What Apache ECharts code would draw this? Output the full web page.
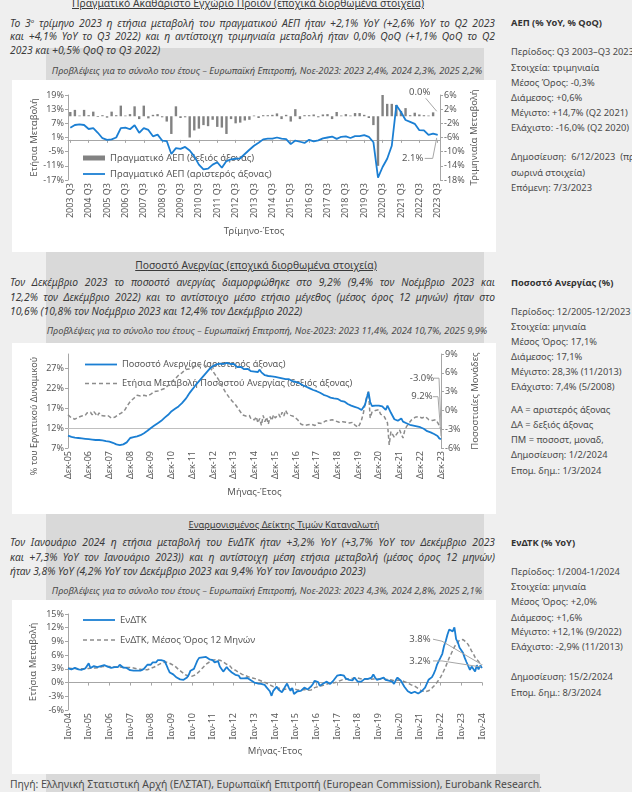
<!DOCTYPE html>
<html><head><meta charset="utf-8">
<script src="https://cdn.jsdelivr.net/npm/echarts@6/dist/echarts.min.js"></script>
<style>
html,body{margin:0;padding:0;}
body{width:632px;height:792px;overflow:hidden;position:relative;background:#efefef;font-family:'Noto Sans','Open Sans',sans-serif;color:#3a3a3a;}
.box{position:absolute;background:#d9d9d9;}
.panel{position:absolute;background:#fff;}
.t{position:absolute;white-space:nowrap;line-height:14px;}
.para{left:10px;width:485px;font-style:italic;font-size:10.3px;}
.just{text-align:justify;text-align-last:justify;}
.fc{font-style:italic;font-size:9.3px;color:#4a4a4a;transform:translateX(-50%);}
.ttl{font-size:10.3px;text-decoration:underline;transform:translateX(-50%);}
.ttl.small{font-size:9.3px;}
.sb{left:511px;font-size:9.3px;color:#4a4a4a;}
.sbh{font-weight:bold;color:#333;}
.foot{left:10px;font-size:10.4px;color:#4a4a4a;}
.chart{position:absolute;}
</style></head>
<body>
<div class="box" style="left:46px;top:48px;width:438px;height:744px;"></div>
<div class="box" style="left:46px;top:774px;width:494px;height:18px;"></div>
<div class="panel" style="left:12px;top:80px;width:484px;height:172px;"></div>
<div class="panel" style="left:12px;top:343px;width:484px;height:171px;"></div>
<div class="panel" style="left:12px;top:600px;width:484px;height:174px;"></div>
<div id="c1" class="chart" style="left:12px;top:80px;width:484px;height:172px;"></div>
<div id="c2" class="chart" style="left:12px;top:343px;width:484px;height:171px;"></div>
<div id="c3" class="chart" style="left:12px;top:600px;width:484px;height:174px;"></div>
<script>
// ---------------- DATA ----------------
// GDP, quarterly Q3 2003 - Q3 2023
const gdpStart = [2003, 3];
const gdpYoY = [5.1, 6.3, 6.6, 6.3, 4.6, 5.0, 3.0, 0.7, 0.0, 0.2, 1.0, 5.0, 5.2, 4.5, 6.2, 3.0,
  5.0, 4.2, 1.5, 2.2, -0.3, -0.5, -6.0, -3.5, -3.8, -3.0, -4.5, -7.0, -10.5, -12.5, -12.2, -10.5,
  -9.5, -11.8, -9.0, -8.3, -8.0, -7.8, -6.0, -4.2, -2.5, -1.2, 0.2, 0.5, 0.5, 1.0, 0.5, 0.3,
  -1.8, -0.3, -0.8, -1.3, 0.0, -0.6, -0.2, 0.6, 1.0, 1.4, 0.4, 1.3, 1.5, 0.8, 1.6, 1.6,
  2.0, 1.3, -1.0, -16.0, -11.5, -8.0, -2.5, 14.7, 11.8, 8.4, 7.6, 6.8, 4.1, 4.0, 2.1, 2.6, 2.1];
const gdpQoQ = [1.2, 1.8, 0.2, 1.8, 0.3, 1.3, -0.2, 0.3, -0.4, 1.3, 0.3, 3.0, 0.2, 0.6, 2.8, -0.8,
  3.0, -0.6, 0.4, 0.6, -0.3, -1.5, -5.0, 2.8, -0.5, -0.3, -6.0, -4.0, -3.5, -2.5, -2.8, -1.0,
  -3.0, -3.2, -5.0, -0.8, -2.0, -1.8, -1.2, -1.0, 0.2, -0.5, 0.3, 0.3, 0.4, 0.8, -0.8, 0.4,
  -1.5, 2.0, -0.8, 0.3, 0.3, 0.5, -0.3, 0.5, 0.6, -0.8, 1.2, 0.2, 0.6, 0.2, 0.9, 0.9,
  0.4, -0.5, -2.5, -14.0, 6.0, 3.5, 3.5, 3.2, 1.5, 2.3, 0.3, 1.0, 0.5, 0.3, 0.2, 1.1, 0.0];

// Unemployment, monthly Dec 2005 - Dec 2023
const unempStart = [2005, 12];
const unempRate = [10.1,
  10.0, 9.8, 9.9, 9.6, 9.7, 9.5, 9.6, 9.4, 9.5, 9.3, 9.4, 9.2,
  9.3, 9.1, 9.2, 9.0, 8.9, 9.0, 8.8, 8.9, 8.6, 8.7, 8.5, 8.6,
  8.4, 8.3, 8.1, 7.9, 7.6, 7.7, 7.8, 7.9, 8.1, 8.4, 8.9, 9.5,
  9.5, 9.7, 9.6, 9.9, 10.0, 10.2, 10.5, 10.7, 11.0, 11.3, 11.6, 12.0,
  12.3, 12.6, 12.9, 13.2, 13.5, 13.8, 14.2, 14.6, 14.9, 15.3, 15.8, 16.2,
  16.5, 16.8, 17.1, 17.4, 17.8, 18.2, 18.6, 19.2, 19.8, 20.5, 21.1, 21.6,
  22.2, 22.8, 23.3, 23.8, 24.3, 24.8, 25.3, 25.8, 26.3, 26.8, 27.2, 27.5,
  27.7, 27.9, 28.0, 28.1, 28.2, 28.0, 28.2, 28.3, 28.1, 28.0, 28.3, 28.0,
  27.6, 27.2, 27.0, 27.3, 26.9, 26.7, 26.5, 26.8, 26.4, 26.2, 26.5, 26.1,
  26.3, 26.0, 26.6, 25.9, 25.6, 25.2, 25.4, 25.0, 25.2, 24.9, 25.0, 24.8,
  24.9, 24.6, 24.8, 24.4, 24.5, 24.2, 24.0, 24.2, 23.9, 23.7, 23.8, 23.5,
  23.4, 23.2, 23.0, 22.7, 22.5, 22.3, 22.0, 21.9, 21.6, 21.5, 21.3, 21.2,
  21.0, 20.8, 20.6, 20.3, 20.4, 20.0, 19.8, 19.6, 19.8, 19.4, 19.6, 19.3,
  19.0, 18.8, 18.5, 18.6, 18.2, 18.0, 17.8, 17.6, 17.5, 17.3, 17.1, 17.0,
  16.8, 16.5, 16.9, 17.8, 19.5, 21.0, 18.5, 17.5, 17.2, 17.6, 17.8, 17.6,
  17.9, 17.4, 17.0, 16.5, 17.6, 17.2, 15.8, 15.0, 14.2, 14.0, 13.8, 13.9,
  14.4, 13.6, 13.3, 13.2, 13.0, 12.8, 12.9, 12.6, 12.5, 12.4, 12.3, 12.2,
  12.0, 11.8, 11.9, 11.2, 11.0, 10.9, 10.7, 10.5, 10.3, 10.0, 9.4, 9.2];
const unempChange = [-0.7,
  -0.9, -1.2, -1.0, -1.4, -1.5, -1.1, -1.3, -0.9, -0.6, -0.8, -0.4, -0.6,
  -0.3, -0.7, -0.2, -0.5, -0.9, -0.4, -0.8, -0.5, -0.9, -1.1, -0.8, -1.0,
  -1.2, -0.9, -1.1, -0.9, -0.7, -0.6, -0.4, -0.2, 0.1, 0.6, 1.0, 1.4,
  1.6, 1.9, 2.1, 2.4, 2.6, 2.3, 2.5, 2.4, 2.6, 2.3, 2.5, 2.6,
  2.9, 3.0, 3.2, 3.1, 3.4, 3.3, 3.6, 3.5, 3.8, 4.0, 4.3, 4.6,
  4.8, 5.0, 5.3, 5.6, 5.8, 6.0, 6.3, 6.5, 6.4, 6.6, 6.8, 6.7,
  7.0, 7.2, 7.4, 7.3, 7.5, 7.4, 7.2, 7.0, 7.3, 6.9, 6.6, 6.2,
  5.8, 5.4, 5.0, 4.5, 4.0, 3.5, 3.0, 2.6, 2.2, 1.9, 1.5, 1.2,
  0.9, 0.5, 0.1, -0.3, -0.7, -0.5, -0.9, -1.2, -0.8, -1.4, -1.1, -1.5,
  -1.0, -2.0, -1.3, -2.4, -0.8, -1.8, -1.1, -2.2, -1.0, -1.6, -0.7, -1.2,
  -1.5, -0.6, -1.1, -0.3, -0.9, 0.0, -0.5, -0.2, -0.8, -0.6, -1.0, -1.2,
  -1.5, -1.8, -2.2, -2.5, -2.4, -2.6, -2.3, -2.5, -2.2, -2.0, -2.4, -2.3,
  -2.0, -1.8, -2.1, -1.9, -1.7, -2.0, -1.6, -1.9, -1.5, -1.8, -1.7, -1.8,
  -1.9, -2.0, -1.8, -2.1, -1.9, -2.2, -2.0, -2.1, -1.9, -2.3, -2.5, -2.7,
  -2.2, -1.5, -0.5, 1.0, 2.2, 3.0, -1.2, -0.3, -0.5, 0.0, 0.2, 0.1,
  -0.6, -0.4, -0.9, -1.0, -2.0, -5.5, -3.4, -3.6, -4.3, -4.1, -3.5, -3.1,
  -3.8, -4.4, -3.2, -2.6, -2.2, -1.9, -1.5, -1.2, -1.1, -0.8, -1.0, -0.9,
  -1.2, -1.4, -1.0, -1.3, -1.5, -1.2, -1.6, -1.8, -1.5, -1.9, -2.4, -3.0];

// HICP, monthly Jan 2004 - Jan 2024
const hicpStart = [2004, 1];
const hicpYoY = [
  3.1, 2.9, 2.9, 2.9, 3.2, 3.0, 2.9, 3.1, 2.8, 3.2, 3.1, 3.1,
  4.2, 3.2, 3.4, 3.6, 3.3, 3.4, 3.8, 3.6, 3.9, 3.8, 3.4, 3.5,
  3.2, 3.2, 3.3, 3.4, 3.7, 3.4, 3.9, 3.6, 3.3, 3.2, 3.2, 3.2,
  2.7, 2.7, 2.6, 2.6, 2.6, 2.5, 2.6, 2.7, 3.0, 3.2, 3.9, 3.9,
  3.9, 4.4, 4.4, 4.4, 4.9, 4.9, 4.9, 4.8, 4.7, 3.9, 3.0, 2.2,
  2.0, 1.8, 1.5, 1.1, 0.7, 0.7, 0.7, 0.6, 0.7, 1.1, 1.7, 2.6,
  2.3, 3.0, 3.9, 4.8, 5.4, 5.6, 5.5, 5.6, 5.6, 5.2, 5.1, 5.2,
  4.9, 4.4, 4.3, 4.7, 3.5, 3.5, 2.4, 2.4, 3.4, 2.9, 2.8, 2.2,
  2.1, 1.7, 1.4, 1.5, 0.9, 1.1, 0.9, 1.2, 1.0, 0.9, 0.5, 0.3,
  0.0, 0.1, -0.2, -0.6, -0.3, -0.3, -0.5, -1.0, -1.0, -1.9, -2.9, -1.8,
  -1.4, -0.9, -1.5, -1.6, -2.1, -1.5, -0.8, -0.2, -1.1, -1.8, -1.2, -2.5,
  -2.8, -1.9, -1.9, -1.8, -1.4, -1.1, -1.3, -1.5, -1.7, -0.8, -0.3, 0.4,
  0.0, 0.1, -0.7, -0.4, -0.2, 0.2, 0.2, 0.0, -0.3, 0.0, 0.5, 0.3,
  1.5, 1.4, 1.7, 1.6, 1.5, 0.9, 0.9, 0.6, 1.0, 0.5, 1.1, 1.0,
  0.2, 0.4, 0.2, 0.5, 0.8, 1.0, 0.8, 0.9, 1.1, 1.8, 1.1, 0.6,
  0.5, 0.8, 1.0, 1.1, 0.6, 0.2, 0.4, 0.1, 0.2, -0.3, 0.5, 1.1,
  1.1, 0.4, 0.2, -0.9, -1.3, -1.9, -2.1, -2.3, -2.3, -2.0, -2.1, -2.4,
  -2.4, -1.9, -2.0, -1.1, -1.2, 0.6, 0.7, 1.2, 1.9, 2.8, 4.0, 4.4,
  5.5, 6.3, 8.0, 9.1, 10.5, 11.6, 11.3, 11.2, 12.1, 9.5, 8.8, 7.6,
  7.3, 6.5, 5.4, 4.5, 4.1, 2.8, 3.5, 3.5, 2.4, 3.8, 2.9, 3.7,
  3.2];
const hicpAvg12 = [
  3.2, 3.2, 3.1, 3.1, 3.1, 3.1, 3.0, 3.0, 3.0, 3.0, 3.0, 3.0,
  3.1, 3.1, 3.2, 3.2, 3.2, 3.2, 3.3, 3.4, 3.5, 3.5, 3.5, 3.5,
  3.5, 3.4, 3.4, 3.4, 3.4, 3.4, 3.4, 3.4, 3.3, 3.3, 3.3, 3.3,
  3.3, 3.2, 3.2, 3.1, 3.0, 3.0, 2.9, 2.8, 2.8, 2.8, 2.8, 3.0,
  3.1, 3.3, 3.4, 3.6, 3.8, 4.0, 4.2, 4.3, 4.5, 4.5, 4.4, 4.2,
  4.0, 3.8, 3.6, 3.3, 2.9, 2.6, 2.3, 2.0, 1.7, 1.5, 1.4, 1.4,
  1.4, 1.5, 1.7, 2.0, 2.4, 2.8, 3.2, 3.6, 4.0, 4.3, 4.5, 4.7,
  4.9, 5.0, 5.0, 5.0, 4.9, 4.7, 4.5, 4.2, 4.0, 3.8, 3.6, 3.1,
  2.9, 2.7, 2.5, 2.2, 2.0, 1.8, 1.7, 1.5, 1.3, 1.2, 1.1, 1.0,
  0.9, 0.8, 0.6, 0.5, 0.4, 0.2, 0.1, -0.1, -0.3, -0.5, -0.8, -0.9,
  -1.0, -1.1, -1.2, -1.3, -1.4, -1.5, -1.5, -1.4, -1.4, -1.4, -1.3, -1.4,
  -1.5, -1.6, -1.6, -1.6, -1.5, -1.5, -1.6, -1.7, -1.7, -1.6, -1.5, -1.1,
  -1.0, -0.9, -0.8, -0.7, -0.6, -0.5, -0.3, -0.2, -0.1, -0.1, 0.0, 0.0,
  0.1, 0.3, 0.5, 0.6, 0.7, 0.7, 0.8, 0.8, 0.9, 0.9, 1.0, 1.1,
  1.0, 0.9, 0.8, 0.7, 0.7, 0.7, 0.7, 0.7, 0.7, 0.8, 0.8, 0.8,
  0.8, 0.8, 0.8, 0.8, 0.8, 0.7, 0.6, 0.6, 0.5, 0.4, 0.4, 0.5,
  0.5, 0.5, 0.4, 0.2, 0.1, -0.1, -0.3, -0.5, -0.7, -0.8, -1.0, -1.3,
  -1.6, -1.8, -2.0, -2.0, -2.0, -1.8, -1.5, -1.2, -0.8, -0.4, 0.1, 0.6,
  1.2, 1.9, 2.7, 3.5, 4.5, 5.4, 6.2, 7.0, 7.8, 8.4, 8.8, 9.3,
  9.4, 9.4, 9.2, 8.8, 8.3, 7.6, 6.9, 6.3, 5.5, 5.1, 4.6, 4.2,
  3.8];

const GR_MONTHS = ['Ιαν','Φεβ','Μαρ','Απρ','Μαΐ','Ιουν','Ιουλ','Αυγ','Σεπ','Οκτ','Νοε','Δεκ'];
function quarterLabels(start, n) {
  const out = []; let y = start[0], q = start[1];
  for (let i = 0; i < n; i++) { out.push(y + ' Q' + q); q++; if (q > 4) { q = 1; y++; } }
  return out;
}
function monthLabels(start, n) {
  const out = []; let y = start[0], m = start[1];
  for (let i = 0; i < n; i++) { out.push(GR_MONTHS[m - 1] + '-' + String(y).slice(2)); m++; if (m > 12) { m = 1; y++; } }
  return out;
}
const gdpCategories = quarterLabels(gdpStart, gdpYoY.length);
const unempCategories = monthLabels(unempStart, unempRate.length);
const hicpCategories = monthLabels(hicpStart, hicpYoY.length);

// ---------------- TEXT ----------------
const texts = [
  ['ttl', 'Πραγματικό Ακαθάριστο Εγχώριο Προϊόν (εποχικά διορθωμένα στοιχεία)', 3, 248],
  ['para just', 'Το 3<sup style="font-size:6px">ο</sup> τρίμηνο 2023 η ετήσια μεταβολή του πραγματικού ΑΕΠ ήταν +2,1% YoY (+2,6% YoY το Q2 2023', 21],
  ['para just', 'και +4,1% YoY το Q3 2022) και η αντίστοιχη τριμηνιαία μεταβολή ήταν 0,0% QoQ (+1,1% QoQ το Q2', 35.5],
  ['para', '2023 και +0,5% QoQ το Q3 2022)', 50],
  ['fc', 'Προβλέψεις για το σύνολο του έτους – Ευρωπαϊκή Επιτροπή, Νοε-2023: 2023 2,4%, 2024 2,3%, 2025 2,2%', 71, 267],
  ['ttl', 'Ποσοστό Ανεργίας (εποχικά διορθωμένα στοιχεία)', 265, 256],
  ['para just', 'Τον Δεκέμβριο 2023 το ποσοστό ανεργίας διαμορφώθηκε στο 9,2% (9,4% τον Νοέμβριο 2023 και', 282],
  ['para just', '12,2% τον Δεκέμβριο 2022) και το αντίστοιχο μέσο ετήσιο μέγεθος (μέσος όρος 12 μηνών) ήταν στο', 296.5],
  ['para', '10,6% (10,8% τον Νοέμβριο 2023 και 12,4% τον Δεκέμβριο 2022)', 311],
  ['fc', 'Προβλέψεις για το σύνολο του έτους – Ευρωπαϊκή Επιτροπή, Νοε-2023: 2023 11,4%, 2024 10,7%, 2025 9,9%', 331, 267],
  ['ttl small', 'Εναρμονισμένος Δείκτης Τιμών Καταναλωτή', 525, 284],
  ['para just', 'Τον Ιανουάριο 2024 η ετήσια μεταβολή του ΕνΔΤΚ ήταν +3,2% YoY (+3,7% YoY τον Δεκέμβριο 2023', 542],
  ['para just', 'και +7,3% YoY τον Ιανουάριο 2023)) και η αντίστοιχη μέση ετήσια μεταβολή (μέσος όρος 12 μηνών)', 556.5],
  ['para', 'ήταν 3,8% YoY (4,2% YoY τον Δεκέμβριο 2023 και 9,4% YoY τον Ιανουάριο 2023)', 571],
  ['fc', 'Προβλέψεις για το σύνολο του έτους – Ευρωπαϊκή Επιτροπή, Νοε-2023: 2023 4,3%, 2024 2,8%, 2025 2,1%', 591, 267],
  ['sb sbh', 'ΑΕΠ (% YoY, % QoQ)', 22.5],
  ['sb', 'Περίοδος: Q3 2003–Q3 2023', 51.5],
  ['sb', 'Στοιχεία: τριμηνιαία', 67.5],
  ['sb', 'Μέσος Όρος: -0,3%', 82.5],
  ['sb', 'Διάμεσος: +0,6%', 98],
  ['sb', 'Μέγιστο: +14,7% (Q2 2021)', 112.5],
  ['sb', 'Ελάχιστο: -16,0% (Q2 2020)', 127.5],
  ['sb', 'Δημοσίευση:&nbsp; 6/12/2023 &nbsp;(προ-', 157],
  ['sb', 'σωρινά στοιχεία)', 173],
  ['sb', 'Επόμενη: 7/3/2023', 188],
  ['sb sbh', 'Ποσοστό Ανεργίας (%)', 282.5],
  ['sb', 'Περίοδος: 12/2005-12/2023', 311.5],
  ['sb', 'Στοιχεία: μηνιαία', 326.5],
  ['sb', 'Μέσος Όρος: 17,1%', 341.5],
  ['sb', 'Διάμεσος: 17,1%', 356.5],
  ['sb', 'Μέγιστο: 28,3% (11/2013)', 371.5],
  ['sb', 'Ελάχιστο: 7,4% (5/2008)', 386.5],
  ['sb', 'ΑΑ = αριστερός άξονας', 410],
  ['sb', 'ΔΑ = δεξιός άξονας', 425],
  ['sb', 'ΠΜ = ποσοστ, μοναδ,', 440],
  ['sb', 'Δημοσίευση: 1/2/2024', 455],
  ['sb', 'Επομ. δημ.: 1/3/2024', 470.5],
  ['sb sbh', 'ΕνΔΤΚ (% YoY)', 542.5],
  ['sb', 'Περίοδος: 1/2004-1/2024', 571.5],
  ['sb', 'Στοιχεία: μηνιαία', 587],
  ['sb', 'Μέσος Όρος: +2,0%', 602],
  ['sb', 'Διάμεσος: +1,6%', 617.5],
  ['sb', 'Μέγιστο: +12,1% (9/2022)', 632],
  ['sb', 'Ελάχιστο: -2,9% (11/2013)', 647],
  ['sb', 'Δημοσίευση: 15/2/2024', 676.5],
  ['sb', 'Επομ. δημ.: 8/3/2024', 692.5],
  ['foot', 'Πηγή: Ελληνική Στατιστική Αρχή (ΕΛΣΤΑΤ), Ευρωπαϊκή Επιτροπή (European Commission), Eurobank Research.', 784]
];
texts.forEach(([cls, html, y, x]) => {
  const d = document.createElement('div');
  d.className = 't ' + cls;
  d.innerHTML = html;
  d.style.top = (y - 7) + 'px';
  if (x !== undefined) d.style.left = x + 'px';
  document.body.appendChild(d);
});

// ---------------- CHARTS ----------------
const FONT = 'Noto Sans';
const AX = '#a6a6a6', LBL = '#595959', BLUE = '#1b7fd3', GREY = '#8c8c8c';
const lblStyle = { fontSize: 9, color: LBL, fontFamily: FONT };
const ICON_LINE22 = 'path://M0,0h22v1.8h-22z';
const ICON_LINE32 = 'path://M0,0h32v1.8h-32z';
const ICON_DASH32 = 'path://M0,0h4v1.5h-4z M7,0h4v1.5h-4z M14,0h4v1.5h-4z M21,0h4v1.5h-4z M28,0h4v1.5h-4z';
function valueAxis(o) {
  return Object.assign({
    type: 'value', splitLine: { show: false },
    axisLine: { show: true, onZero: false, lineStyle: { color: AX, width: 1 } },
    axisTick: { show: true, length: 3, lineStyle: { color: AX } },
    axisLabel: Object.assign({ formatter: '{value}%', margin: 4 }, lblStyle),
    nameLocation: 'middle', nameRotate: 90, nameMoveOverlap: false,
    nameTextStyle: { fontSize: 9.5, color: LBL, fontFamily: FONT }
  }, o);
}
function annotate(chart, items) {
  const g = [];
  items.forEach(it => {
    const p = chart.convertToPixel({ seriesIndex: it.series }, [it.index, it.value]);
    g.push({ type: 'polyline', silent: true, z: 50,
      shape: { points: it.path.map(q => [p[0] + q[0], p[1] + q[1]]) },
      style: { stroke: '#a6a6a6', lineWidth: 1, fill: null } });
    g.push({ type: 'text', silent: true, z: 51, x: p[0] + it.dx, y: p[1] + it.dy,
      style: { text: it.value.toFixed(1) + '%', fill: LBL, fontSize: 9.5, fontFamily: FONT,
        align: 'center', verticalAlign: 'middle' } });
  });
  chart.setOption({ graphic: g });
}

// Chart 1: GDP
const c1 = echarts.init(document.getElementById('c1'), null, { renderer: 'canvas' });
c1.setOption({
  animation: false,
  textStyle: { fontFamily: FONT },
  grid: { left: 56, top: 15, width: 372, height: 85, outerBoundsMode: 'none' },
  legend: {
    orient: 'vertical', left: 66, top: 68, itemGap: 6, itemWidth: 22, itemHeight: 5,
    textStyle: { fontSize: 9.5, color: LBL, fontFamily: FONT },
    data: [{ name: 'Πραγματικό ΑΕΠ (δεξιός άξονας)', icon: 'rect' },
           { name: 'Πραγματικό ΑΕΠ (αριστερός άξονας)', icon: ICON_LINE22 }]
  },
  xAxis: [
    { type: 'category', data: gdpCategories, boundaryGap: true,
      axisLine: { show: true, onZero: true, onZeroAxisIndex: 0, lineStyle: { color: AX } },
      axisTick: { show: true, interval: 3, alignWithLabel: true, length: 3, lineStyle: { color: AX } },
      axisLabel: { show: false } },
    { type: 'category', data: gdpCategories, boundaryGap: true, position: 'bottom',
      axisLine: { show: false, onZero: false }, axisTick: { show: false },
      axisLabel: Object.assign({ interval: 3, rotate: 90, margin: 3 }, lblStyle),
      name: 'Τρίμηνο-Έτος', nameLocation: 'middle', nameGap: 46, nameMoveOverlap: false,
      nameTextStyle: { fontSize: 9.5, color: LBL, fontFamily: FONT } }
  ],
  yAxis: [
    valueAxis({ min: -17, max: 19, interval: 6, position: 'left', name: 'Ετήσια Μεταβολή', nameGap: 29 }),
    valueAxis({ min: -18, max: 6, interval: 4, position: 'right', name: 'Τριμηνιαία Μεταβολή', nameGap: 29 })
  ],
  series: [
    { name: 'Πραγματικό ΑΕΠ (δεξιός άξονας)', type: 'bar', xAxisIndex: 0, yAxisIndex: 1, data: gdpQoQ,
      barWidth: 2.4, itemStyle: { color: '#828282' }, silent: true },
    { name: 'Πραγματικό ΑΕΠ (αριστερός άξονας)', type: 'line', xAxisIndex: 0, yAxisIndex: 0, data: gdpYoY,
      symbol: 'none', lineStyle: { color: BLUE, width: 1.8 }, itemStyle: { color: BLUE }, z: 5 }
  ]
});
annotate(c1, [
  { series: 0, index: gdpQoQ.length - 1, value: gdpQoQ[gdpQoQ.length - 1], dx: -18, dy: -24, path: [[-12, -18], [-1, -5]] },
  { series: 1, index: gdpYoY.length - 1, value: gdpYoY[gdpYoY.length - 1], dx: -25, dy: 23.5, path: [[-13, 23.5], [-5, 23.5], [-1, 3]] }
]);

// Chart 2: Unemployment
const c2 = echarts.init(document.getElementById('c2'), null, { renderer: 'canvas' });
c2.setOption({
  animation: false,
  textStyle: { fontFamily: FONT },
  grid: { left: 56, top: 11, width: 373, height: 94, outerBoundsMode: 'none' },
  legend: {
    orient: 'vertical', left: 68, top: 12, itemGap: 10, itemWidth: 32, itemHeight: 6,
    textStyle: { fontSize: 9.2, color: LBL, fontFamily: FONT },
    data: [{ name: 'Ποσοστό Ανεργίας (αριστερός άξονας)', icon: ICON_LINE32 },
           { name: 'Ετήσια Μεταβολή Ποσοστού Ανεργίας (δεξιός άξονας)', icon: ICON_DASH32 }]
  },
  xAxis: { type: 'category', data: unempCategories, boundaryGap: false,
    axisLine: { show: false }, axisTick: { show: false },
    axisLabel: Object.assign({ interval: 11, rotate: 90, margin: 3 }, lblStyle),
    name: 'Μήνας-Έτος', nameLocation: 'middle', nameGap: 39, nameMoveOverlap: false,
    nameTextStyle: { fontSize: 9.5, color: LBL, fontFamily: FONT } },
  yAxis: [
    valueAxis({ min: 7, max: 30.5, interval: 5, position: 'left', name: '% του Εργατικού Δυναμικού', nameGap: 29,
      nameTextStyle: { fontSize: 9, color: LBL, fontFamily: FONT, padding: [0, 30, 0, 0] },
      axisLabel: Object.assign({ formatter: '{value}%', margin: 4, showMaxLabel: false }, lblStyle) }),
    valueAxis({ min: -6, max: 9, interval: 3, position: 'right', name: 'Ποσοστιαίες Μονάδες', nameGap: 29 })
  ],
  series: [
    { name: 'Ποσοστό Ανεργίας (αριστερός άξονας)', type: 'line', yAxisIndex: 0, data: unempRate,
      symbol: 'none', lineStyle: { color: BLUE, width: 1.8 }, itemStyle: { color: BLUE }, z: 5,
      markLine: { silent: true, symbol: 'none', label: { show: false }, animation: false,
        lineStyle: { color: '#bfbfbf', type: 'solid', width: 1 }, data: [{ yAxis: 12 }] } },
    { name: 'Ετήσια Μεταβολή Ποσοστού Ανεργίας (δεξιός άξονας)', type: 'line', yAxisIndex: 1, data: unempChange,
      symbol: 'none', lineStyle: { color: GREY, width: 1.5, type: [4, 2.5] }, itemStyle: { color: GREY }, z: 4 }
  ]
});
annotate(c2, [
  { series: 1, index: unempChange.length - 1, value: unempChange[unempChange.length - 1], dx: -19, dy: -51, path: [[-7, -51], [-2, -51], [0, -3]] },
  { series: 0, index: unempRate.length - 1, value: unempRate[unempRate.length - 1], dx: -19, dy: -42.5, path: [[-8, -42.5], [-3, -42.5], [0, -3]] }
]);

// Chart 3: HICP
const c3 = echarts.init(document.getElementById('c3'), null, { renderer: 'canvas' });
c3.setOption({
  animation: false,
  textStyle: { fontFamily: FONT },
  grid: { left: 56, top: 14, width: 414, height: 96, outerBoundsMode: 'none' },
  legend: {
    orient: 'vertical', left: 66, top: 10, itemGap: 10, itemWidth: 32, itemHeight: 6,
    textStyle: { fontSize: 9.5, color: LBL, fontFamily: FONT },
    data: [{ name: 'ΕνΔΤΚ', icon: ICON_LINE32 }, { name: 'ΕνΔΤΚ, Μέσος Όρος 12 Μηνών', icon: ICON_DASH32 }]
  },
  xAxis: [
    { type: 'category', data: hicpCategories, boundaryGap: false,
      axisLine: { show: true, onZero: true, lineStyle: { color: AX } },
      axisTick: { show: true, interval: 11, length: 3, lineStyle: { color: AX } },
      axisLabel: { show: false } },
    { type: 'category', data: hicpCategories, boundaryGap: false, position: 'bottom',
      axisLine: { show: false, onZero: false }, axisTick: { show: false },
      axisLabel: Object.assign({ interval: 11, rotate: 90, margin: 3 }, lblStyle),
      name: 'Μήνας-Έτος', nameLocation: 'middle', nameGap: 36, nameMoveOverlap: false,
      nameTextStyle: { fontSize: 9.5, color: LBL, fontFamily: FONT } }
  ],
  yAxis: valueAxis({ min: -6, max: 15, interval: 3, position: 'left', name: 'Ετήσια Μεταβολή', nameGap: 30 }),
  series: [
    { name: 'ΕνΔΤΚ', type: 'line', xAxisIndex: 0, data: hicpYoY, symbol: 'none',
      lineStyle: { color: BLUE, width: 1.8 }, itemStyle: { color: BLUE }, z: 5 },
    { name: 'ΕνΔΤΚ, Μέσος Όρος 12 Μηνών', type: 'line', xAxisIndex: 0, data: hicpAvg12, symbol: 'none',
      lineStyle: { color: GREY, width: 1.5, type: [4, 2.5] }, itemStyle: { color: GREY }, z: 4 }
  ]
});
annotate(c3, [
  { series: 1, index: hicpAvg12.length - 1, value: hicpAvg12[hicpAvg12.length - 1], dx: -62, dy: -26, path: [[-49, -26], [-40, -24], [-1, -1]] },
  { series: 0, index: hicpYoY.length - 1, value: hicpYoY[hicpYoY.length - 1], dx: -62, dy: -7, path: [[-49, -7], [-40, -7], [-1, -1]] }
]);
</script>
</body></html>
